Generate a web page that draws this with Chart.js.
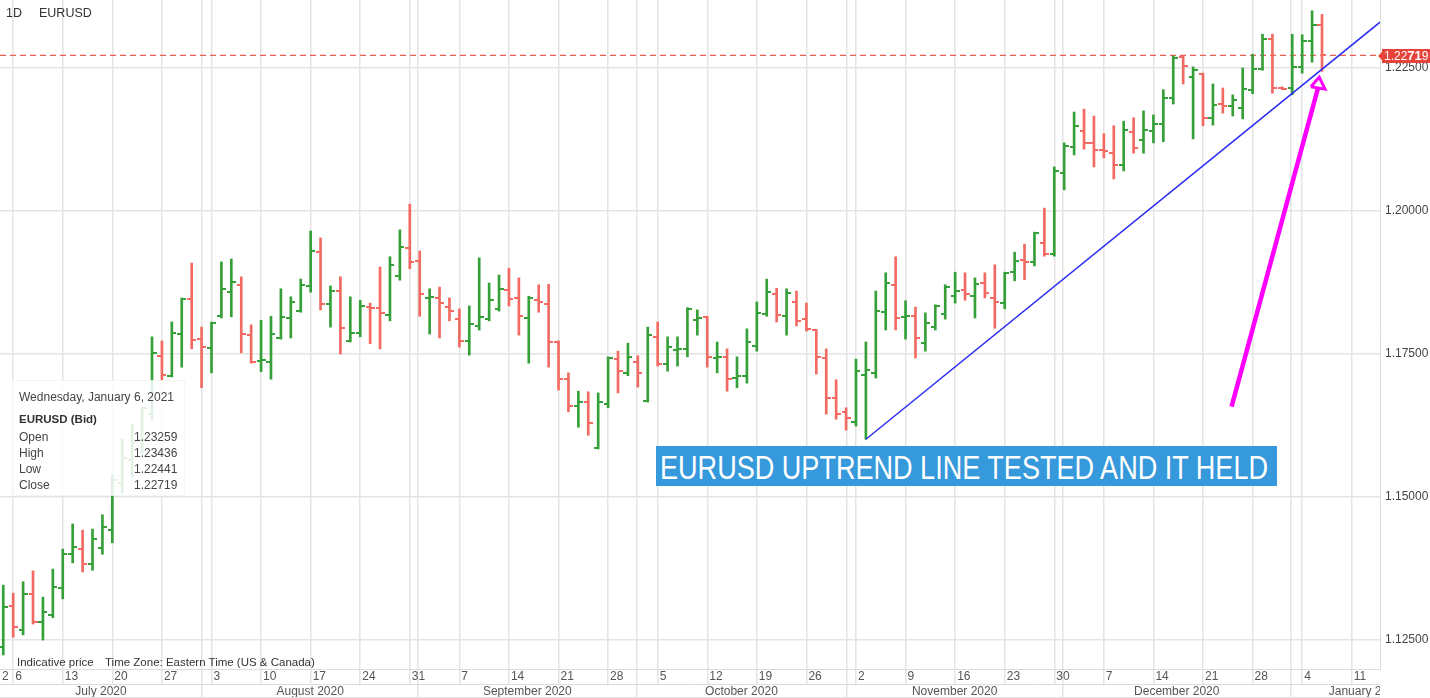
<!DOCTYPE html>
<html>
<head>
<meta charset="utf-8">
<title>EURUSD 1D</title>
<script src="https://cdn.jsdelivr.net/npm/chart.js@4.4.0/dist/chart.umd.min.js"></script>
<style>
  body { margin: 0; background: #fff; font-family: "Liberation Sans", Arial, sans-serif; }
  #wrap { position: relative; width: 1430px; height: 698px; overflow: hidden; }
  #c { position: absolute; left: 0; top: 0; }
  .txt { position: absolute; white-space: nowrap; line-height: 14px; color: #333; }
  #info { position: absolute; left: 12px; top: 380px; width: 173px; height: 116px;
          background: rgba(255,255,255,0.86); border: 1px solid rgba(0,0,0,0.04); box-sizing: border-box; }
  #info .txt { font-size: 12px; color: #444; }
  #note { position: absolute; left: 656px; top: 446px; width: 621px; height: 40px; background: #3599db; overflow: hidden; }
  #note span { position: absolute; left: 4px; top: 0; line-height: 42px; color: #fff; font-size: 34px;
               font-family: "Liberation Sans Narrow", "Arial Narrow", "Liberation Sans", Arial, sans-serif;
               white-space: nowrap; transform-origin: 0 50%; }
  #last { position: absolute; left: 1382px; top: 49px; width: 60px; height: 14px; background: #e8433a;
          color: #fff; font-size: 12px; line-height: 14px; padding-left: 2px; box-sizing: border-box; }
  #last b { font-size: 13px; }
  #lastArrow { position: absolute; left: 1378px; top: 52px; width: 0; height: 0;
               border-top: 4px solid transparent; border-bottom: 4px solid transparent; border-right: 4px solid #e8433a; }
  #clipR { position: absolute; left: 1380px; top: 684px; width: 50px; height: 14px; background: #fff; }
  #baseLine { position: absolute; left: 0; top: 697px; width: 1380px; height: 1px; background: #e2e2e2; }
</style>
</head>
<body>
<div id="wrap">
  <canvas id="c" width="1430" height="698"></canvas>

  <div class="txt" style="left:6px; top:6px; font-size:12.5px;">1D</div>
  <div class="txt" style="left:39px; top:6px; font-size:12.5px;">EURUSD</div>

  <div id="info">
    <div class="txt" style="left:6px; top:9px;">Wednesday, January 6, 2021</div>
    <div class="txt" style="left:6px; top:31px; font-weight:bold; font-size:11.5px; color:#333;">EURUSD (Bid)</div>
    <div class="txt" style="left:6px; top:49px;">Open</div>
    <div class="txt" style="left:6px; top:65px;">High</div>
    <div class="txt" style="left:6px; top:81px;">Low</div>
    <div class="txt" style="left:6px; top:97px;">Close</div>
    <div class="txt" id="vOpen" style="left:121px; top:49px;"></div>
    <div class="txt" id="vHigh" style="left:121px; top:65px;"></div>
    <div class="txt" id="vLow" style="left:121px; top:81px;"></div>
    <div class="txt" id="vClose" style="left:121px; top:97px;"></div>
  </div>

  <div class="txt" style="left:17px; top:655px; font-size:11.5px;">Indicative price</div>
  <div class="txt" style="left:105px; top:655px; font-size:11.5px;">Time Zone: Eastern Time (US &amp; Canada)</div>

  <div id="note"><span id="noteText">EURUSD UPTREND LINE TESTED AND IT HELD</span></div>

  <div id="lastArrow"></div>
  <div id="last">1.22<b>71</b>9</div>

  <div id="clipR"></div>
  <div id="baseLine"></div>
</div>

<script>
// daily EURUSD bars, 3 Jul 2020 .. 6 Jan 2021 (weekdays)
const opens = [
  1.1238, 1.1310, 1.1268, 1.1331, 1.1282, 1.1294, 1.1341, 1.1400, 1.1409, 1.1383,
  1.1411, 1.1442, 1.1525, 1.1565, 1.1600, 1.1645, 1.1747, 1.1712, 1.1785, 1.1846,
  1.1776, 1.1761, 1.1816, 1.1858, 1.1871, 1.1783, 1.1738, 1.1736, 1.1778, 1.1813,
  1.1825, 1.1869, 1.1928, 1.1837, 1.1860, 1.1773, 1.1787, 1.1832, 1.1830, 1.1818,
  1.1886, 1.1935, 1.1913, 1.1848, 1.1848, 1.1832, 1.1811, 1.1773, 1.1799, 1.1811,
  1.1829, 1.1862, 1.1848, 1.1813, 1.1844, 1.1837, 1.1771, 1.1706, 1.1659, 1.1666,
  1.1586, 1.1663, 1.1741, 1.1717, 1.1736, 1.1668, 1.1780, 1.1733, 1.1757, 1.1759,
  1.1809, 1.1815, 1.1743, 1.1745, 1.1708, 1.1712, 1.1764, 1.1820, 1.1855, 1.1816,
  1.1841, 1.1811, 1.1792, 1.1743, 1.1673, 1.1649, 1.1631, 1.1713, 1.1717, 1.1823,
  1.1871, 1.1815, 1.1816, 1.1769, 1.1797, 1.1820, 1.1851, 1.1862, 1.1851, 1.1874,
  1.1848, 1.1839, 1.1893, 1.1914, 1.1911, 1.1944, 1.1925, 1.2066, 1.2112, 1.2140,
  1.2119, 1.2107, 1.2101, 1.2080, 1.2138, 1.2124, 1.2140, 1.2152, 1.2198, 1.2269,
  1.2234, 1.2240, 1.2163, 1.2187, 1.2184, 1.2180, 1.2212, 1.2248, 1.2301, 1.2215,
  1.2215, 1.2252, 1.2297, 1.23259
];
const highs = [
  1.1346, 1.1332, 1.1352, 1.1371, 1.1325, 1.1374, 1.1409, 1.1453, 1.1442, 1.1444,
  1.1469, 1.1539, 1.1601, 1.1628, 1.1657, 1.1780, 1.1773, 1.1806, 1.1848, 1.1909,
  1.1797, 1.1806, 1.1911, 1.1916, 1.1885, 1.1801, 1.1809, 1.1816, 1.1864, 1.1850,
  1.1881, 1.1965, 1.1953, 1.1869, 1.1885, 1.1850, 1.1844, 1.1839, 1.1902, 1.1920,
  1.1967, 1.2012, 1.1930, 1.1864, 1.1867, 1.1848, 1.1829, 1.1834, 1.1918, 1.1874,
  1.1888, 1.1900, 1.1883, 1.1851, 1.1871, 1.1872, 1.1773, 1.1717, 1.1685, 1.1684,
  1.1682, 1.1745, 1.1755, 1.1769, 1.1747, 1.1797, 1.1806, 1.1780, 1.1780, 1.1831,
  1.1827, 1.1816, 1.1771, 1.1759, 1.1745, 1.1794, 1.1841, 1.1881, 1.1865, 1.1864,
  1.1860, 1.1839, 1.1793, 1.1759, 1.1705, 1.1656, 1.1741, 1.1771, 1.1860, 1.1892,
  1.1920, 1.1843, 1.1832, 1.1822, 1.1836, 1.1871, 1.1893, 1.1892, 1.1883, 1.1892,
  1.1906, 1.1893, 1.1928, 1.1942, 1.1963, 1.2005, 1.2077, 1.2119, 1.2173, 1.2178,
  1.2166, 1.2135, 1.2149, 1.2157, 1.2163, 1.2175, 1.2168, 1.2212, 1.2271, 1.2271,
  1.2252, 1.2241, 1.2222, 1.2215, 1.2203, 1.2250, 1.2274, 1.2309, 1.2309, 1.2217,
  1.2309, 1.2308, 1.2350, 1.23436
];
const lows = [
  1.1224, 1.1255, 1.1259, 1.1278, 1.1250, 1.1289, 1.1322, 1.1385, 1.1369, 1.1372,
  1.1400, 1.1420, 1.1507, 1.1535, 1.1577, 1.1635, 1.1705, 1.1710, 1.1727, 1.1759,
  1.1691, 1.1717, 1.1813, 1.1815, 1.1752, 1.1734, 1.1719, 1.1706, 1.1776, 1.1778,
  1.1823, 1.1858, 1.1827, 1.1797, 1.1750, 1.1771, 1.1780, 1.1768, 1.1759, 1.1808,
  1.1879, 1.1899, 1.1816, 1.1785, 1.1778, 1.1808, 1.1762, 1.1748, 1.1792, 1.1808,
  1.1825, 1.1834, 1.1783, 1.1734, 1.1823, 1.1727, 1.1687, 1.1649, 1.1622, 1.1608,
  1.1584, 1.1656, 1.1682, 1.1712, 1.1692, 1.1666, 1.1729, 1.1720, 1.1729, 1.1745,
  1.1783, 1.1727, 1.1717, 1.1685, 1.1691, 1.1699, 1.1755, 1.1816, 1.1806, 1.1783,
  1.1799, 1.1790, 1.1715, 1.1645, 1.1636, 1.1617, 1.1624, 1.1601, 1.1708, 1.1792,
  1.1792, 1.1776, 1.1743, 1.1755, 1.1792, 1.1811, 1.1839, 1.1844, 1.1813, 1.1848,
  1.1795, 1.1829, 1.1878, 1.1880, 1.1904, 1.1921, 1.1921, 1.2037, 1.2098, 1.2108,
  1.2077, 1.2093, 1.2056, 1.2070, 1.2101, 1.2101, 1.2119, 1.2121, 1.2187, 1.2222,
  1.2126, 1.2149, 1.2150, 1.2171, 1.2166, 1.2161, 1.2205, 1.2246, 1.2206, 1.2212,
  1.2203, 1.2241, 1.2260, 1.22441
];
const closes = [
  1.1308, 1.1273, 1.1331, 1.1282, 1.1299, 1.1343, 1.1400, 1.1413, 1.1383, 1.1427,
  1.1448, 1.1530, 1.1568, 1.1596, 1.1656, 1.1752, 1.1713, 1.1787, 1.1846, 1.1774,
  1.1762, 1.1804, 1.1864, 1.1876, 1.1785, 1.1736, 1.1740, 1.1785, 1.1815, 1.1841,
  1.1871, 1.1930, 1.1837, 1.1860, 1.1795, 1.1787, 1.1834, 1.1830, 1.1822, 1.1906,
  1.1937, 1.1911, 1.1855, 1.1850, 1.1839, 1.1825, 1.1773, 1.1802, 1.1815, 1.1844,
  1.1864, 1.1846, 1.1816, 1.1848, 1.1841, 1.1771, 1.1706, 1.1659, 1.1666, 1.1629,
  1.1666, 1.1743, 1.1720, 1.1745, 1.1717, 1.1783, 1.1733, 1.1762, 1.1759, 1.1829,
  1.1813, 1.1745, 1.1745, 1.1706, 1.1712, 1.1771, 1.1822, 1.1858, 1.1818, 1.1857,
  1.1808, 1.1794, 1.1745, 1.1673, 1.1645, 1.1638, 1.1720, 1.1722, 1.1825, 1.1874,
  1.1813, 1.1816, 1.1778, 1.1804, 1.1834, 1.1867, 1.1860, 1.1855, 1.1872, 1.1857,
  1.1841, 1.1892, 1.1913, 1.1911, 1.1962, 1.1925, 1.2070, 1.2114, 1.2149, 1.2119,
  1.2107, 1.2105, 1.2080, 1.2142, 1.2110, 1.2142, 1.2152, 1.2198, 1.2267, 1.2253,
  1.2246, 1.2163, 1.2185, 1.2184, 1.2194, 1.2213, 1.2248, 1.2301, 1.2215, 1.2213,
  1.2252, 1.2297, 1.23259, 1.22719
];

const priceTicks = [1.125, 1.15, 1.175, 1.2, 1.225];
const monthNames = ['January', 'February', 'March', 'April', 'May', 'June', 'July',
                    'August', 'September', 'October', 'November', 'December'];
const firstLabel = '2';   // partly hidden date label at the left edge

// drawn notes (bar index, price)
const trendX = [87, 138.85];
const trendY = [1.1601, 1.2330];
const arrowX = [123.88, 132.6];
const arrowY = [1.1658, 1.2215];
const headX  = [131.88, 132.72, 133.30, 131.88];
const headY  = [1.2217, 1.2234, 1.2213, 1.2217];

const GREEN = '#359f38';
const RED   = '#f26a62';
const GRID  = '#e4e4e4';

const xMin = -0.33, xMax = 138.85;
const yMin = 1.11994, yMax = 1.23688;

// trading calendar: weekdays only
const cal = [];
for (let d = new Date(2020, 6, 3); d <= new Date(2021, 0, 15); d.setDate(d.getDate() + 1)) {
  if (d.getDay() !== 0 && d.getDay() !== 6) cal.push(new Date(d));
}

// day row: left edge label, mondays, month boundaries
const xTicks = [{ value: xMin, label: firstLabel, kind: 'edge' }];
const bounds = [];
cal.forEach((d, i) => {
  if (i <= xMax && d.getDay() === 1) xTicks.push({ value: i, label: String(d.getDate()), kind: 'week' });
  if (i > 0 && d.getMonth() !== cal[i - 1].getMonth()) {
    const b = d.getDate() === 1 ? i - 0.15 : i - 0.95;
    bounds.push({ value: b, date: d });
    xTicks.push({ value: b, label: '', kind: 'month' });
  }
});
xTicks.sort((a, b) => a.value - b.value);

// month row
const monthTicks = [];
let start = xMin, startDate = cal[0];
bounds.forEach(b => {
  monthTicks.push({ value: (start + b.value) / 2, label: monthNames[startDate.getMonth()] + ' ' + startDate.getFullYear(), kind: 'label' });
  monthTicks.push({ value: b.value, label: '', kind: 'sep' });
  start = b.value; startDate = b.date;
});
monthTicks.push({ value: start + 7.5, label: monthNames[startDate.getMonth()] + ' ' + startDate.getFullYear(), kind: 'label' });
monthTicks.sort((a, b) => a.value - b.value);

function tickImage(color, side) {
  const cv = document.createElement('canvas');
  cv.width = 9; cv.height = 2;
  const g = cv.getContext('2d');
  g.fillStyle = color;
  g.fillRect(side === 'left' ? 0 : 5, 0, 4, 2);
  return cv;
}
const openG = tickImage(GREEN, 'left'), openR = tickImage(RED, 'left');
const closeG = tickImage(GREEN, 'right'), closeR = tickImage(RED, 'right');

const idx = opens.map((_, i) => i);
const up = idx.map(i => closes[i] >= opens[i]);
const last = closes[closes.length - 1];

Chart.defaults.font.family = '"Liberation Sans", Arial, sans-serif';
Chart.defaults.font.size = 12;
Chart.defaults.color = '#555';

const toPts = (xs, ys) => xs.map((x, i) => ({ x: x, y: ys[i] }));
const lineBase = { type: 'line', xAxisID: 'x', yAxisID: 'y', pointRadius: 0, fill: false, tension: 0 };
const noPad = s => { s.paddingTop = 0; s.paddingBottom = 0; s.paddingLeft = 0; s.paddingRight = 0; };

new Chart(document.getElementById('c'), {
  type: 'scatter',
  data: {
    datasets: [
      Object.assign({}, lineBase, { label: 'arrow', data: toPts(arrowX, arrowY), borderColor: '#ff00ff', borderWidth: 4.5, order: 0 }),
      Object.assign({}, lineBase, { label: 'arrowHead', data: toPts(headX, headY), borderColor: '#ff00ff', borderWidth: 3, borderJoinStyle: 'miter', order: 0 }),
      Object.assign({}, lineBase, { label: 'trend', data: toPts(trendX, trendY), borderColor: '#2d2df2', borderWidth: 1.5, order: 1 }),
      {
        type: 'scatter', label: 'open', xAxisID: 'x', yAxisID: 'y', order: 2,
        data: idx.map(i => ({ x: i, y: opens[i] })),
        pointStyle: idx.map(i => up[i] ? openG : openR), pointRadius: 3
      },
      {
        type: 'scatter', label: 'close', xAxisID: 'x', yAxisID: 'y', order: 2,
        data: idx.map(i => ({ x: i, y: closes[i] })),
        pointStyle: idx.map(i => up[i] ? closeG : closeR), pointRadius: 3
      },
      {
        type: 'bar', label: 'range', xAxisID: 'x', yAxisID: 'y', order: 3,
        data: idx.map(i => ({ x: i, y: [lows[i], highs[i]] })),
        backgroundColor: idx.map(i => up[i] ? GREEN : RED),
        barThickness: 2, borderWidth: 0
      },
      Object.assign({}, lineBase, { label: 'last', data: [{ x: xMin, y: last }, { x: xMax, y: last }],
        borderColor: '#ec5f56', borderWidth: 1.2, borderDash: [6, 4], order: 4 })
    ]
  },
  options: {
    responsive: false,
    animation: false,
    events: [],
    layout: { padding: 0, autoPadding: false },
    plugins: { legend: { display: false }, tooltip: { enabled: false } },
    scales: {
      x: {
        type: 'linear', position: 'bottom', weight: 0, min: xMin, max: xMax, offset: false,
        afterBuildTicks: s => { s.ticks = xTicks.map(t => ({ value: t.value })); },
        afterFit: s => { s.height = 15; noPad(s); },
        grid: { offset: false, lineWidth: 1.5, drawTicks: true, tickLength: 15,
                color: c => (xTicks[c.index] && xTicks[c.index].kind === 'edge') ? 'rgba(0,0,0,0)' : GRID },
        border: { display: true, color: '#dcdcdc', width: 1 },
        ticks: { autoSkip: false, maxRotation: 0, align: 'start', labelOffset: 2, padding: -15,
                 color: '#555', callback: (v, i) => xTicks[i] ? xTicks[i].label : '' }
      },
      x2: {
        type: 'linear', position: 'bottom', weight: 1, min: xMin, max: xMax, offset: false,
        afterBuildTicks: s => { s.ticks = monthTicks.map(t => ({ value: t.value })); },
        afterFit: s => { s.height = 14; noPad(s); },
        grid: { offset: false, drawOnChartArea: false, drawTicks: true, tickLength: 14, lineWidth: 1.5,
                color: c => (monthTicks[c.index] && monthTicks[c.index].kind === 'sep') ? GRID : 'rgba(0,0,0,0)' },
        border: { display: true, color: '#dcdcdc', width: 1 },
        ticks: { autoSkip: false, maxRotation: 0, padding: -14, color: '#555',
                 callback: (v, i) => monthTicks[i] ? monthTicks[i].label : '' }
      },
      y: {
        type: 'linear', position: 'right', min: yMin, max: yMax,
        afterBuildTicks: s => { s.ticks = priceTicks.map(v => ({ value: v })); },
        afterFit: s => { s.width = 50; noPad(s); },
        grid: { color: GRID, lineWidth: 1.5, drawTicks: false },
        border: { display: true, color: '#dcdcdc', width: 1 },
        ticks: { padding: 5, color: '#444', callback: v => v.toFixed(5) }
      }
    }
  }
});

// info box values for the last bar
const n = opens.length - 1;
document.getElementById('vOpen').textContent = opens[n].toFixed(5);
document.getElementById('vHigh').textContent = highs[n].toFixed(5);
document.getElementById('vLow').textContent = lows[n].toFixed(5);
document.getElementById('vClose').textContent = closes[n].toFixed(5);

// squeeze the note text to the width it has in the picture
const nt = document.getElementById('noteText');
nt.style.transform = 'scaleX(' + (608 / nt.getBoundingClientRect().width) + ')';
</script>
</body>
</html>
